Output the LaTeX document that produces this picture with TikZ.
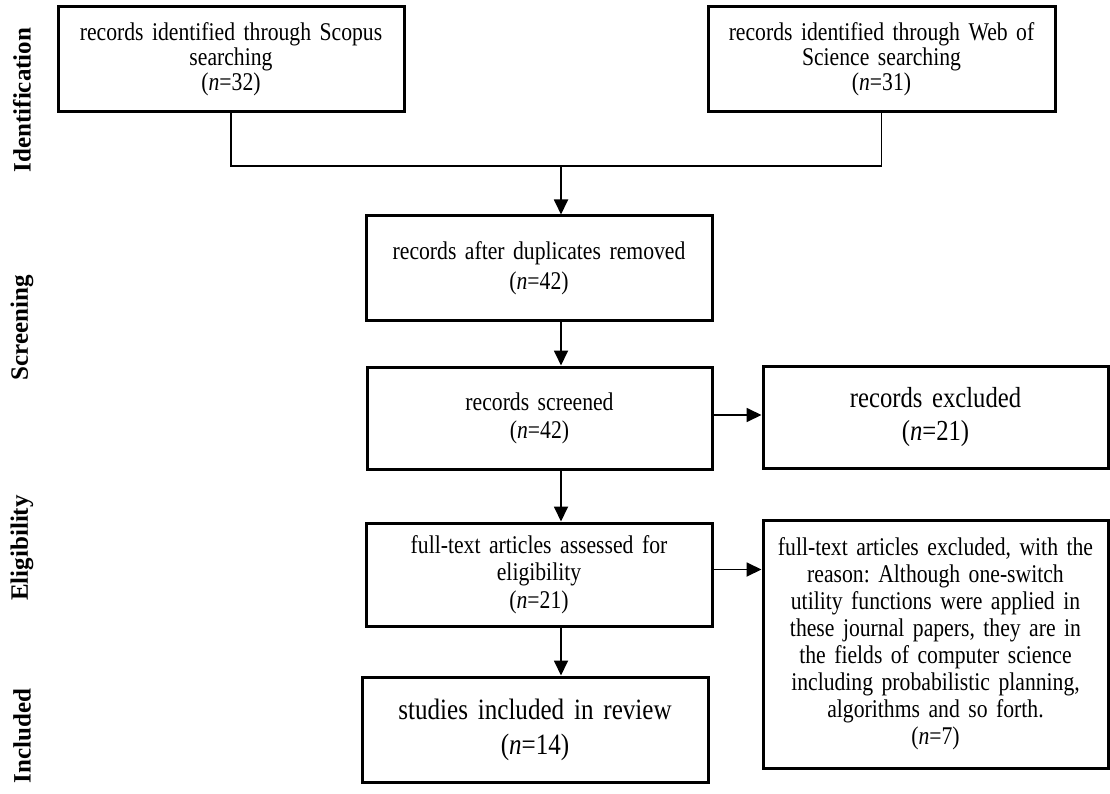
\documentclass[tikz,border=0pt]{standalone}
\usepackage{fontspec}
\setmainfont{Liberation Serif}[FakeStretch=0.85]
\newfontfamily\labelfont{Liberation Serif}
\frenchspacing
\usetikzlibrary{arrows.meta,calc}
\newcommand\tightsp[1]{\spaceskip=#1 plus 1pt minus 0.5pt\relax}
\begin{document}
\begin{tikzpicture}[x=1pt,y=-1pt,
  box/.style={draw, line width=3pt, rectangle, align=center, inner sep=0pt,
    text width=335pt, font=\fontsize{25.5}{26}\selectfont\tightsp{5.3pt}},
  bigbox/.style={box, font=\fontsize{29}{33}\selectfont\tightsp{6pt}},
  phase/.style={rotate=90, font=\labelfont\bfseries\fontsize{25}{30}\selectfont, inner sep=0pt},
  conn/.style={line width=1.8pt},
  arr/.style={conn, -{Triangle[length=15pt,width=14pt]}}]
\useasboundingbox (0,0) rectangle (1110,794);

% phase labels
\node[phase] (pid) at (22,100) {Identification};
\node[phase] (psc) at (22,328) {Screening};
\node[phase] (pel) at (22,548) {Eligibility};
\node[phase] (pin) at (22,736) {Included};

% boxes
\node[box, font=\fontsize{25.5}{25}\selectfont\tightsp{5.3pt}, minimum width=346pt, minimum height=105pt] (b1) at (231,59.5)
  {records identified through Scopus\\searching\\(\textit{n}=32)};
\node[box, font=\fontsize{25.5}{25}\selectfont\tightsp{5.3pt}, minimum width=347pt, minimum height=105pt] (b2) at (881.5,59.5)
  {records identified through Web of\\Science searching\\(\textit{n}=31)\\[4pt]};
\node[box, font=\fontsize{25.5}{30}\selectfont\tightsp{5.3pt}, minimum width=346pt, minimum height=104pt] (b3) at (539,268)
  {records after duplicates removed\\(\textit{n}=42)};
\node[box, font=\fontsize{25.5}{28}\selectfont\tightsp{5.3pt}, minimum width=345pt, minimum height=102pt] (b4) at (539.5,418)
  {records screened\\(\textit{n}=42)};
\node[bigbox, minimum width=345pt, minimum height=102pt] (b7) at (935.5,417)
  {records excluded\\(\textit{n}=21)};
\node[box, font=\fontsize{25.5}{27.5}\selectfont\tightsp{5.3pt}, minimum width=346pt, minimum height=103pt] (b5) at (539,574.5)
  {full-text articles assessed for\\eligibility\\(\textit{n}=21)};
\node[box, font=\fontsize{25.5}{27}\selectfont\tightsp{5.3pt}, minimum width=345pt, minimum height=248pt] (b8) at (935.5,644)
  {full-text articles excluded, with the\\reason: Although one-switch\\utility functions were applied in\\these journal papers, they are in\\the fields of computer science\\including probabilistic planning,\\algorithms and so forth.\\(\textit{n}=7)};
\node[bigbox, font=\fontsize{29.5}{35}\selectfont\tightsp{6pt}, minimum width=346pt, minimum height=105pt] (b6) at (535,729.5)
  {studies included in review\\(\textit{n}=14)};

% connectors
\coordinate (j) at (561,166);
\draw[conn] (b1.south) |- (j) -| (b2.south);
\draw[arr] (j) -- (j |- b3.north);
\draw[arr] (b3.south -| j) -- (b4.north -| j);
\draw[arr] (b4.south -| j) -- (b5.north -| j);
\draw[arr] (b5.south -| j) -- (b6.north -| j);
\coordinate (e1) at ($(b4.east)+(0,-3)$);
\draw[arr] (e1) -- (e1 -| b7.west);
\coordinate (e2) at ($(b5.east)+(0,-5)$);
\draw[arr] (e2) -- (e2 -| b8.west);
\end{tikzpicture}
\end{document}
